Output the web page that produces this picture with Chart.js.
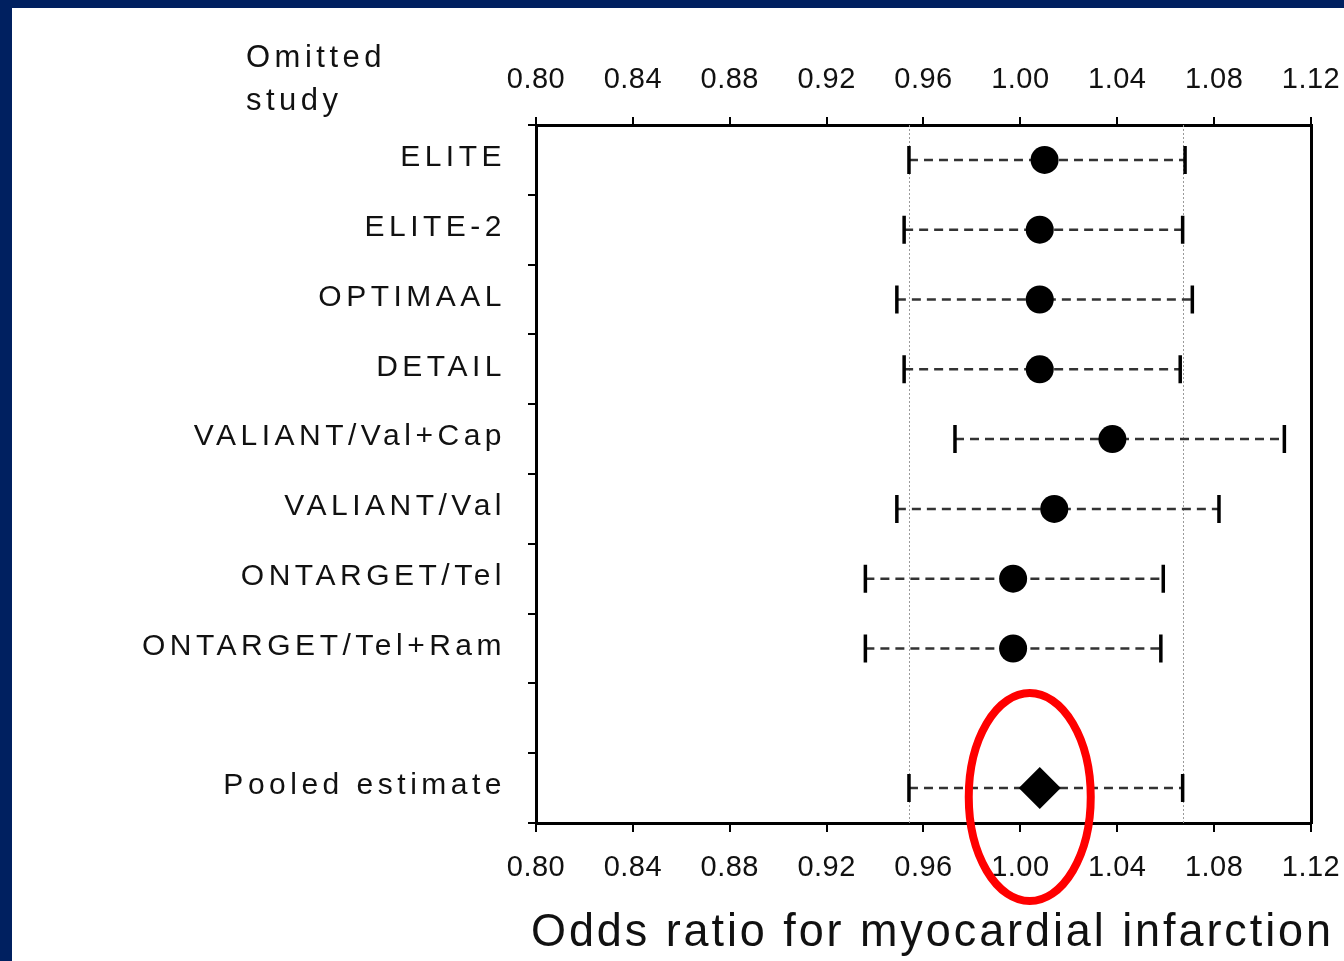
<!DOCTYPE html>
<html>
<head>
<meta charset="utf-8">
<script src="https://cdn.jsdelivr.net/npm/chart.js@4/dist/chart.umd.min.js"></script>
<style>
  html, body { margin: 0; padding: 0; background: #002060; width: 1344px; height: 961px; overflow: hidden; }
  #panel { position: absolute; left: 12px; top: 8px; width: 1332px; height: 953px; background: #fff; }
  canvas { display: block; }
</style>
</head>
<body>
<div id="panel"><canvas id="forest" width="1332" height="953"></canvas></div>
<script>
// rows of the forest plot (top to bottom)
const studies = ['ELITE', 'ELITE-2', 'OPTIMAAL', 'DETAIL', 'VALIANT/Val+Cap', 'VALIANT/Val', 'ONTARGET/Tel', 'ONTARGET/Tel+Ram'];
const oddsRatio = [1.010, 1.008, 1.008, 1.008, 1.038, 1.014, 0.997, 0.997];
const ciLower   = [0.954, 0.952, 0.949, 0.952, 0.973, 0.949, 0.936, 0.936];
const ciUpper   = [1.068, 1.067, 1.071, 1.066, 1.109, 1.082, 1.059, 1.058];

const pooledLabel = 'Pooled estimate';
const pooledOR = [1.008];
const pooledLower = [0.954];
const pooledUpper = [1.067];

const rowLabels = [...studies, '', pooledLabel];
const xTicks = [0.80, 0.84, 0.88, 0.92, 0.96, 1.00, 1.04, 1.08, 1.12];
const xTitle = 'Odds ratio for myocardial infarction';
const yTitle = ['Omitted', 'study'];

const FONT = '"Liberation Sans", Arial, Helvetica, sans-serif';

const allLabels = [...studies, pooledLabel];
const allOR = [...oddsRatio, ...pooledOR];
const allLo = [...ciLower, ...pooledLower];
const allHi = [...ciUpper, ...pooledUpper];

// one dashed segment with end caps per row
const ciSets = allLabels.map((lab, i) => ({
    data: [{ x: allLo[i], y: lab }, { x: allHi[i], y: lab }],
    showLine: true,
    borderColor: '#333',
    borderWidth: 2.5,
    borderDash: [9, 6],
    pointStyle: 'line',
    rotation: 90,
    pointRadius: 14,
    pointBorderWidth: 3.5,
    pointBorderColor: '#000',
    order: 2
}));

const pointSet = {
    data: allLabels.map((lab, i) => ({ x: allOR[i], y: lab })),
    pointStyle: allLabels.map(l => l === pooledLabel ? 'rectRot' : 'circle'),
    pointRadius: allLabels.map(l => l === pooledLabel ? 21 : 14),
    backgroundColor: '#000',
    borderColor: '#000',
    borderWidth: 0,
    order: 1
};

// letter spacing for the tick labels of each scale
const spacing = { y: '4.5px', x: '0.5px', x2: '0.5px' };

const spacingPlugin = {
    id: 'spacing',
    afterLayout(chart) {
        Object.keys(spacing).forEach(id => {
            const scale = chart.scales[id];
            if (!scale || scale._spaced) return;
            const orig = scale.drawLabels;
            scale.drawLabels = function (...args) {
                this.ctx.letterSpacing = spacing[id];
                orig.apply(this, args);
                this.ctx.letterSpacing = '0px';
            };
            scale._spaced = true;
        });
    }
};

// dotted reference lines at the pooled confidence limits
const refLines = {
    id: 'refLines',
    beforeDatasetsDraw(chart) {
        const { ctx, chartArea, scales } = chart;
        ctx.save();
        ctx.strokeStyle = '#9a9a9a';
        ctx.lineWidth = 1;
        ctx.setLineDash([2, 2]);
        [pooledLower[0], pooledUpper[0]].forEach(v => {
            const px = Math.round(scales.x.getPixelForValue(v)) + 0.5;
            ctx.beginPath();
            ctx.moveTo(px, chartArea.top);
            ctx.lineTo(px, chartArea.bottom);
            ctx.stroke();
        });
        ctx.restore();
    }
};

// axis headings (wider than the plot, so drawn here) and the red highlight ring
const extras = {
    id: 'extras',
    afterDraw(chart) {
        const { ctx, scales, chartArea } = chart;
        ctx.save();
        ctx.fillStyle = '#111';
        ctx.textAlign = 'left';
        ctx.textBaseline = 'middle';

        ctx.letterSpacing = '4.5px';
        ctx.font = '31px ' + FONT;
        ctx.fillText(yTitle[0], 234, 50);
        ctx.fillText(yTitle[1], 234, 93);

        ctx.letterSpacing = '3px';
        ctx.font = '46px ' + FONT;
        ctx.fillText(xTitle, chartArea.left - 5, 925, 803);
        ctx.letterSpacing = '0px';

        const cx = scales.x.getPixelForValue(pooledOR[0]) - 10;
        const cy = scales.y.getPixelForValue(rowLabels.indexOf(pooledLabel)) + 9;
        ctx.strokeStyle = '#ff0000';
        ctx.lineWidth = 8;
        ctx.beginPath();
        ctx.ellipse(cx, cy, 61, 104, 0, 0, Math.PI * 2);
        ctx.stroke();
        ctx.restore();
    }
};

const noSidePadding = s => { s.paddingLeft = 0; s.paddingRight = 0; };

const tickFont = { family: FONT, size: 29 };
const tickText = v => Number(v).toFixed(2);

const xAxis = (position, tickLength, padding, height) => ({
    type: 'linear',
    position: position,
    min: xTicks[0],
    max: xTicks[xTicks.length - 1],
    afterBuildTicks: s => { s.ticks = xTicks.map(v => ({ value: v })); },
    afterFit: s => { s.height = height; noSidePadding(s); },
    ticks: { callback: tickText, color: '#111', font: tickFont, maxRotation: 0, autoSkip: false, padding: padding },
    grid: { drawOnChartArea: false, color: '#000', lineWidth: 2, tickLength: tickLength },
    border: { display: true, color: '#000', width: 3 }
});

new Chart(document.getElementById('forest'), {
    type: 'scatter',
    data: { datasets: [pointSet, ...ciSets] },
    options: {
        responsive: false,
        animation: false,
        events: [],
        layout: { padding: { left: 0, right: 33, top: 0, bottom: 0 } },
        plugins: { legend: { display: false }, tooltip: { enabled: false } },
        scales: {
            x: xAxis('bottom', 9, 19, 138),
            x2: xAxis('top', 8, 20, 117),
            y: {
                type: 'category',
                labels: rowLabels,
                position: 'left',
                offset: true,
                afterFit: s => { s.width = 524; },
                ticks: { color: '#111', font: { family: FONT, size: 30 }, padding: 22, labelOffset: -2, autoSkip: false },
                grid: { offset: true, drawOnChartArea: false, color: '#000', lineWidth: 2, tickLength: 8 },
                border: { display: true, color: '#000', width: 3 }
            },
            y2: {
                type: 'linear',
                position: 'right',
                afterFit: s => { s.width = 0; },
                ticks: { display: false },
                grid: { display: false },
                border: { display: true, color: '#000', width: 3 }
            }
        }
    },
    plugins: [spacingPlugin, refLines, extras]
});
</script>
</body>
</html>
